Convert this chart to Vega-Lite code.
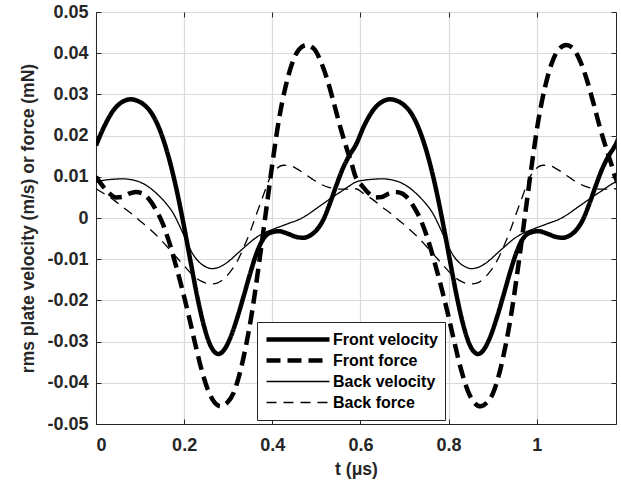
{
  "$schema": "https://vega.github.io/schema/vega-lite/v6.json",
  "width": 520,
  "height": 412,
  "autosize": "none",
  "padding": {"left": 96, "top": 12, "right": 5, "bottom": 63},
  "background": "white",
  "config": {
    "font": "Liberation Sans",
    "view": {"stroke": "#262626", "strokeWidth": 1},
    "axis": {
      "labelFont": "Liberation Sans",
      "labelFontSize": 18,
      "labelFontWeight": "bold",
      "labelColor": "#262626",
      "titleFont": "Liberation Sans",
      "titleFontSize": 17.5,
      "titleFontWeight": "bold",
      "titleColor": "#262626",
      "domainColor": "#262626",
      "tickColor": "#262626",
      "gridColor": "#dadada",
      "gridWidth": 1.2,
      "tickSize": -5
    },
    "legend": {
      "labelFont": "Liberation Sans",
      "labelFontSize": 16,
      "labelFontWeight": "bold",
      "labelColor": "black"
    }
  },
  "data": {"values": [
    {"s":"Front velocity","t":0,"v":0.0176},{"s":"Front velocity","t":0.02,"v":0.0225},{"s":"Front velocity","t":0.04,"v":0.0262},{"s":"Front velocity","t":0.06,"v":0.0282},{"s":"Front velocity","t":0.078,"v":0.0288},{"s":"Front velocity","t":0.095,"v":0.0284},{"s":"Front velocity","t":0.11,"v":0.0274},{"s":"Front velocity","t":0.125,"v":0.0256},{"s":"Front velocity","t":0.14,"v":0.0226},{"s":"Front velocity","t":0.155,"v":0.0183},{"s":"Front velocity","t":0.17,"v":0.0127},{"s":"Front velocity","t":0.185,"v":0.0058},{"s":"Front velocity","t":0.2,"v":-0.0022},{"s":"Front velocity","t":0.215,"v":-0.0108},{"s":"Front velocity","t":0.23,"v":-0.0192},{"s":"Front velocity","t":0.245,"v":-0.0262},{"s":"Front velocity","t":0.26,"v":-0.031},{"s":"Front velocity","t":0.278,"v":-0.033},{"s":"Front velocity","t":0.292,"v":-0.0318},{"s":"Front velocity","t":0.305,"v":-0.029},{"s":"Front velocity","t":0.32,"v":-0.0244},{"s":"Front velocity","t":0.335,"v":-0.019},{"s":"Front velocity","t":0.35,"v":-0.0134},{"s":"Front velocity","t":0.365,"v":-0.0084},{"s":"Front velocity","t":0.38,"v":-0.005},{"s":"Front velocity","t":0.395,"v":-0.0036},{"s":"Front velocity","t":0.415,"v":-0.0032},{"s":"Front velocity","t":0.435,"v":-0.0038},{"s":"Front velocity","t":0.455,"v":-0.0046},{"s":"Front velocity","t":0.47,"v":-0.0048},{"s":"Front velocity","t":0.485,"v":-0.0043},{"s":"Front velocity","t":0.5,"v":-0.003},{"s":"Front velocity","t":0.515,"v":-0.0006},{"s":"Front velocity","t":0.53,"v":0.0033},{"s":"Front velocity","t":0.545,"v":0.0078},{"s":"Front velocity","t":0.56,"v":0.012},{"s":"Front velocity","t":0.575,"v":0.0152},
    {"s":"Front velocity","t":0.589,"v":0.0176},{"s":"Front velocity","t":0.609,"v":0.0225},{"s":"Front velocity","t":0.629,"v":0.0262},{"s":"Front velocity","t":0.649,"v":0.0282},{"s":"Front velocity","t":0.667,"v":0.0288},{"s":"Front velocity","t":0.684,"v":0.0284},{"s":"Front velocity","t":0.699,"v":0.0274},{"s":"Front velocity","t":0.714,"v":0.0256},{"s":"Front velocity","t":0.729,"v":0.0226},{"s":"Front velocity","t":0.744,"v":0.0183},{"s":"Front velocity","t":0.759,"v":0.0127},{"s":"Front velocity","t":0.774,"v":0.0058},{"s":"Front velocity","t":0.789,"v":-0.0022},{"s":"Front velocity","t":0.804,"v":-0.0108},{"s":"Front velocity","t":0.819,"v":-0.0192},{"s":"Front velocity","t":0.834,"v":-0.0262},{"s":"Front velocity","t":0.849,"v":-0.031},{"s":"Front velocity","t":0.867,"v":-0.033},{"s":"Front velocity","t":0.881,"v":-0.0318},{"s":"Front velocity","t":0.894,"v":-0.029},{"s":"Front velocity","t":0.909,"v":-0.0244},{"s":"Front velocity","t":0.924,"v":-0.019},{"s":"Front velocity","t":0.939,"v":-0.0134},{"s":"Front velocity","t":0.954,"v":-0.0084},{"s":"Front velocity","t":0.969,"v":-0.005},{"s":"Front velocity","t":0.984,"v":-0.0036},{"s":"Front velocity","t":1.004,"v":-0.0032},{"s":"Front velocity","t":1.024,"v":-0.0038},{"s":"Front velocity","t":1.044,"v":-0.0046},{"s":"Front velocity","t":1.059,"v":-0.0048},{"s":"Front velocity","t":1.074,"v":-0.0043},{"s":"Front velocity","t":1.089,"v":-0.003},{"s":"Front velocity","t":1.104,"v":-0.0006},{"s":"Front velocity","t":1.119,"v":0.0033},{"s":"Front velocity","t":1.134,"v":0.0078},{"s":"Front velocity","t":1.149,"v":0.012},{"s":"Front velocity","t":1.164,"v":0.0152},{"s":"Front velocity","t":1.178,"v":0.0176},{"s":"Front velocity","t":1.19,"v":0.0205},
    {"s":"Front force","t":0,"v":0.01},{"s":"Front force","t":0.015,"v":0.0078},{"s":"Front force","t":0.03,"v":0.006},{"s":"Front force","t":0.045,"v":0.005},{"s":"Front force","t":0.06,"v":0.0051},{"s":"Front force","t":0.075,"v":0.0059},{"s":"Front force","t":0.09,"v":0.0063},{"s":"Front force","t":0.105,"v":0.006},{"s":"Front force","t":0.12,"v":0.0046},{"s":"Front force","t":0.135,"v":0.0022},{"s":"Front force","t":0.15,"v":-0.001},{"s":"Front force","t":0.165,"v":-0.0055},{"s":"Front force","t":0.18,"v":-0.011},{"s":"Front force","t":0.195,"v":-0.017},{"s":"Front force","t":0.21,"v":-0.0235},{"s":"Front force","t":0.225,"v":-0.0305},{"s":"Front force","t":0.24,"v":-0.037},{"s":"Front force","t":0.255,"v":-0.042},{"s":"Front force","t":0.27,"v":-0.0449},{"s":"Front force","t":0.283,"v":-0.0457},{"s":"Front force","t":0.297,"v":-0.0449},{"s":"Front force","t":0.312,"v":-0.0425},{"s":"Front force","t":0.325,"v":-0.0382},{"s":"Front force","t":0.34,"v":-0.0312},{"s":"Front force","t":0.355,"v":-0.0222},{"s":"Front force","t":0.37,"v":-0.011},{"s":"Front force","t":0.385,"v":0.001},{"s":"Front force","t":0.4,"v":0.013},{"s":"Front force","t":0.415,"v":0.0238},{"s":"Front force","t":0.43,"v":0.0318},{"s":"Front force","t":0.445,"v":0.0375},{"s":"Front force","t":0.46,"v":0.0408},{"s":"Front force","t":0.478,"v":0.042},{"s":"Front force","t":0.495,"v":0.041},{"s":"Front force","t":0.51,"v":0.038},{"s":"Front force","t":0.525,"v":0.0335},{"s":"Front force","t":0.54,"v":0.0278},{"s":"Front force","t":0.555,"v":0.0218},{"s":"Front force","t":0.57,"v":0.0165},{"s":"Front force","t":0.58,"v":0.0132},
    {"s":"Front force","t":0.589,"v":0.01},{"s":"Front force","t":0.604,"v":0.0078},{"s":"Front force","t":0.619,"v":0.006},{"s":"Front force","t":0.634,"v":0.005},{"s":"Front force","t":0.649,"v":0.0051},{"s":"Front force","t":0.664,"v":0.0059},{"s":"Front force","t":0.679,"v":0.0063},{"s":"Front force","t":0.694,"v":0.006},{"s":"Front force","t":0.709,"v":0.0046},{"s":"Front force","t":0.724,"v":0.0022},{"s":"Front force","t":0.739,"v":-0.001},{"s":"Front force","t":0.754,"v":-0.0055},{"s":"Front force","t":0.769,"v":-0.011},{"s":"Front force","t":0.784,"v":-0.017},{"s":"Front force","t":0.799,"v":-0.0235},{"s":"Front force","t":0.814,"v":-0.0305},{"s":"Front force","t":0.829,"v":-0.037},{"s":"Front force","t":0.844,"v":-0.042},{"s":"Front force","t":0.859,"v":-0.0449},{"s":"Front force","t":0.872,"v":-0.0457},{"s":"Front force","t":0.886,"v":-0.0449},{"s":"Front force","t":0.901,"v":-0.0425},{"s":"Front force","t":0.914,"v":-0.0382},{"s":"Front force","t":0.929,"v":-0.0312},{"s":"Front force","t":0.944,"v":-0.0222},{"s":"Front force","t":0.959,"v":-0.011},{"s":"Front force","t":0.974,"v":0.001},{"s":"Front force","t":0.989,"v":0.013},{"s":"Front force","t":1.004,"v":0.0238},{"s":"Front force","t":1.019,"v":0.0318},{"s":"Front force","t":1.034,"v":0.0375},{"s":"Front force","t":1.049,"v":0.0408},{"s":"Front force","t":1.067,"v":0.042},{"s":"Front force","t":1.084,"v":0.041},{"s":"Front force","t":1.099,"v":0.038},{"s":"Front force","t":1.114,"v":0.0335},{"s":"Front force","t":1.129,"v":0.0278},{"s":"Front force","t":1.144,"v":0.0218},{"s":"Front force","t":1.159,"v":0.0165},{"s":"Front force","t":1.169,"v":0.0132},{"s":"Front force","t":1.178,"v":0.01},{"s":"Front force","t":1.19,"v":0.0075},
    {"s":"Back velocity","t":0,"v":0.0087},{"s":"Back velocity","t":0.02,"v":0.0092},{"s":"Back velocity","t":0.04,"v":0.0094},{"s":"Back velocity","t":0.06,"v":0.0095},{"s":"Back velocity","t":0.08,"v":0.0093},{"s":"Back velocity","t":0.1,"v":0.0087},{"s":"Back velocity","t":0.12,"v":0.0075},{"s":"Back velocity","t":0.14,"v":0.0057},{"s":"Back velocity","t":0.16,"v":0.0034},{"s":"Back velocity","t":0.175,"v":0.0012},{"s":"Back velocity","t":0.19,"v":-0.002},{"s":"Back velocity","t":0.205,"v":-0.0055},{"s":"Back velocity","t":0.22,"v":-0.0088},{"s":"Back velocity","t":0.235,"v":-0.0108},{"s":"Back velocity","t":0.25,"v":-0.0119},{"s":"Back velocity","t":0.263,"v":-0.0123},{"s":"Back velocity","t":0.28,"v":-0.0119},{"s":"Back velocity","t":0.3,"v":-0.0106},{"s":"Back velocity","t":0.32,"v":-0.0087},{"s":"Back velocity","t":0.34,"v":-0.0068},{"s":"Back velocity","t":0.36,"v":-0.005},{"s":"Back velocity","t":0.38,"v":-0.0037},{"s":"Back velocity","t":0.4,"v":-0.0028},{"s":"Back velocity","t":0.42,"v":-0.002},{"s":"Back velocity","t":0.44,"v":-0.0012},{"s":"Back velocity","t":0.46,"v":-0.0004},{"s":"Back velocity","t":0.48,"v":0.0008},{"s":"Back velocity","t":0.5,"v":0.0023},{"s":"Back velocity","t":0.52,"v":0.0038},{"s":"Back velocity","t":0.54,"v":0.0053},{"s":"Back velocity","t":0.56,"v":0.0067},{"s":"Back velocity","t":0.575,"v":0.0078},
    {"s":"Back velocity","t":0.589,"v":0.0087},{"s":"Back velocity","t":0.609,"v":0.0092},{"s":"Back velocity","t":0.629,"v":0.0094},{"s":"Back velocity","t":0.649,"v":0.0095},{"s":"Back velocity","t":0.669,"v":0.0093},{"s":"Back velocity","t":0.689,"v":0.0087},{"s":"Back velocity","t":0.709,"v":0.0075},{"s":"Back velocity","t":0.729,"v":0.0057},{"s":"Back velocity","t":0.749,"v":0.0034},{"s":"Back velocity","t":0.764,"v":0.0012},{"s":"Back velocity","t":0.779,"v":-0.002},{"s":"Back velocity","t":0.794,"v":-0.0055},{"s":"Back velocity","t":0.809,"v":-0.0088},{"s":"Back velocity","t":0.824,"v":-0.0108},{"s":"Back velocity","t":0.839,"v":-0.0119},{"s":"Back velocity","t":0.852,"v":-0.0123},{"s":"Back velocity","t":0.869,"v":-0.0119},{"s":"Back velocity","t":0.889,"v":-0.0106},{"s":"Back velocity","t":0.909,"v":-0.0087},{"s":"Back velocity","t":0.929,"v":-0.0068},{"s":"Back velocity","t":0.949,"v":-0.005},{"s":"Back velocity","t":0.969,"v":-0.0037},{"s":"Back velocity","t":0.989,"v":-0.0028},{"s":"Back velocity","t":1.009,"v":-0.002},{"s":"Back velocity","t":1.029,"v":-0.0012},{"s":"Back velocity","t":1.049,"v":-0.0004},{"s":"Back velocity","t":1.069,"v":0.0008},{"s":"Back velocity","t":1.089,"v":0.0023},{"s":"Back velocity","t":1.109,"v":0.0038},{"s":"Back velocity","t":1.129,"v":0.0053},{"s":"Back velocity","t":1.149,"v":0.0067},{"s":"Back velocity","t":1.164,"v":0.0078},{"s":"Back velocity","t":1.178,"v":0.0087},{"s":"Back velocity","t":1.19,"v":0.0091},
    {"s":"Back force","t":0,"v":0.0071},{"s":"Back force","t":0.02,"v":0.0058},{"s":"Back force","t":0.04,"v":0.0044},{"s":"Back force","t":0.06,"v":0.0027},{"s":"Back force","t":0.08,"v":0.0011},{"s":"Back force","t":0.1,"v":-0.0007},{"s":"Back force","t":0.12,"v":-0.0025},{"s":"Back force","t":0.14,"v":-0.0045},{"s":"Back force","t":0.16,"v":-0.0068},{"s":"Back force","t":0.18,"v":-0.0092},{"s":"Back force","t":0.2,"v":-0.0116},{"s":"Back force","t":0.22,"v":-0.0139},{"s":"Back force","t":0.24,"v":-0.0154},{"s":"Back force","t":0.26,"v":-0.016},{"s":"Back force","t":0.275,"v":-0.0158},{"s":"Back force","t":0.29,"v":-0.0148},{"s":"Back force","t":0.305,"v":-0.013},{"s":"Back force","t":0.32,"v":-0.0106},{"s":"Back force","t":0.335,"v":-0.0072},{"s":"Back force","t":0.35,"v":-0.0033},{"s":"Back force","t":0.365,"v":0.0012},{"s":"Back force","t":0.38,"v":0.0056},{"s":"Back force","t":0.395,"v":0.0098},{"s":"Back force","t":0.41,"v":0.012},{"s":"Back force","t":0.425,"v":0.0128},{"s":"Back force","t":0.44,"v":0.0127},{"s":"Back force","t":0.455,"v":0.012},{"s":"Back force","t":0.47,"v":0.011},{"s":"Back force","t":0.49,"v":0.0095},{"s":"Back force","t":0.51,"v":0.0082},{"s":"Back force","t":0.53,"v":0.0074},{"s":"Back force","t":0.55,"v":0.007},{"s":"Back force","t":0.57,"v":0.007},
    {"s":"Back force","t":0.589,"v":0.0071},{"s":"Back force","t":0.609,"v":0.0058},{"s":"Back force","t":0.629,"v":0.0044},{"s":"Back force","t":0.649,"v":0.0027},{"s":"Back force","t":0.669,"v":0.0011},{"s":"Back force","t":0.689,"v":-0.0007},{"s":"Back force","t":0.709,"v":-0.0025},{"s":"Back force","t":0.729,"v":-0.0045},{"s":"Back force","t":0.749,"v":-0.0068},{"s":"Back force","t":0.769,"v":-0.0092},{"s":"Back force","t":0.789,"v":-0.0116},{"s":"Back force","t":0.809,"v":-0.0139},{"s":"Back force","t":0.829,"v":-0.0154},{"s":"Back force","t":0.849,"v":-0.016},{"s":"Back force","t":0.864,"v":-0.0158},{"s":"Back force","t":0.879,"v":-0.0148},{"s":"Back force","t":0.894,"v":-0.013},{"s":"Back force","t":0.909,"v":-0.0106},{"s":"Back force","t":0.924,"v":-0.0072},{"s":"Back force","t":0.939,"v":-0.0033},{"s":"Back force","t":0.954,"v":0.0012},{"s":"Back force","t":0.969,"v":0.0056},{"s":"Back force","t":0.984,"v":0.0098},{"s":"Back force","t":0.999,"v":0.012},{"s":"Back force","t":1.014,"v":0.0128},{"s":"Back force","t":1.029,"v":0.0127},{"s":"Back force","t":1.044,"v":0.012},{"s":"Back force","t":1.059,"v":0.011},{"s":"Back force","t":1.079,"v":0.0095},{"s":"Back force","t":1.099,"v":0.0082},{"s":"Back force","t":1.119,"v":0.0074},{"s":"Back force","t":1.139,"v":0.007},{"s":"Back force","t":1.159,"v":0.007},{"s":"Back force","t":1.178,"v":0.0071},{"s":"Back force","t":1.19,"v":0.0064}
  ]},
  "resolve": {"axis": {"x": "independent", "y": "independent"}},
  "layer": [
    {
      "mark": {"type": "line", "interpolate": "monotone", "clip": true},
      "encoding": {
        "x": {"field": "t", "type": "quantitative",
          "scale": {"domain": [0, 1.18], "nice": false, "zero": false},
          "axis": {"values": [0, 0.2, 0.4, 0.6, 0.8, 1], "format": ".1~f", "title": "t (μs)", "grid": true, "labelPadding": 17, "titleY": 50, "titleBaseline": "alphabetic"}},
        "y": {"field": "v", "type": "quantitative",
          "scale": {"domain": [-0.05, 0.05], "nice": false, "zero": false},
          "axis": {"values": [-0.05, -0.04, -0.03, -0.02, -0.01, 0, 0.01, 0.02, 0.03, 0.04, 0.05], "labelExpr": "replace(format(datum.value, '.2~f'), '−', '-')", "title": "rms plate velocity (m/s) or force (mN)", "grid": true, "labelPadding": 13, "titleX": -63, "titleY": 206, "titleAngle": -90, "titleAlign": "center", "titleBaseline": "alphabetic"}},
        "color": {"field": "s", "type": "nominal",
          "scale": {"domain": ["Front velocity", "Front force", "Back velocity", "Back force"], "range": ["black", "black", "black", "black"]},
          "legend": {"title": null, "orient": "none", "legendX": 161, "legendY": 310, "symbolType": "stroke", "symbolSize": 3969, "clipHeight": 21, "rowPadding": 0, "padding": 7, "labelOffset": 1, "fillColor": "white", "strokeColor": "#262626"}},
        "strokeDash": {"field": "s", "type": "nominal",
          "scale": {"domain": ["Front velocity", "Front force", "Back velocity", "Back force"], "range": [[1, 0], [14, 7], [1, 0], [10, 7]]},
          "legend": {"title": null, "orient": "none", "legendX": 161, "legendY": 310, "symbolType": "stroke", "symbolSize": 3969, "clipHeight": 21, "rowPadding": 0, "padding": 7, "labelOffset": 1, "fillColor": "white", "strokeColor": "#262626"}},
        "strokeWidth": {"field": "s", "type": "nominal",
          "scale": {"type": "ordinal", "domain": ["Front velocity", "Front force", "Back velocity", "Back force"], "range": [4.5, 4.5, 1.3, 1.3]},
          "legend": {"title": null, "orient": "none", "legendX": 161, "legendY": 310, "symbolType": "stroke", "symbolSize": 3969, "clipHeight": 21, "rowPadding": 0, "padding": 7, "labelOffset": 1, "fillColor": "white", "strokeColor": "#262626"}}
      }
    },
    {
      "mark": {"type": "line", "opacity": 0},
      "encoding": {
        "x": {"field": "t", "type": "quantitative", "axis": {"orient": "top", "values": [0, 0.2, 0.4, 0.6, 0.8, 1], "labels": false, "title": null, "grid": false, "domain": false}},
        "y": {"field": "v", "type": "quantitative", "axis": {"orient": "right", "values": [-0.05, -0.04, -0.03, -0.02, -0.01, 0, 0.01, 0.02, 0.03, 0.04, 0.05], "labels": false, "title": null, "grid": false, "domain": false}},
        "detail": {"field": "s", "type": "nominal"}
      }
    }
  ]
}
